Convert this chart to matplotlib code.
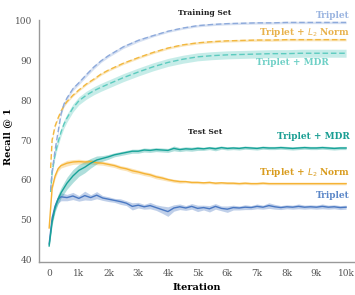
import matplotlib.pyplot as plt
import numpy as np

# iteraciones
it_train = [50, 100, 200, 300, 400, 500, 600, 800, 1000, 1250, 1500, 1750, 2000, 2500, 3000,
            3500, 4000, 4500, 5000, 5500, 6000, 6500, 7000, 7500, 8000, 8500, 9000, 9500, 10000]
it_test = [0, 100, 200, 300, 400] + list(range(600, 10001, 200))

# training set (dashed)
train_triplet = [57.5, 62.0, 67.5, 72.0, 76.5, 79.0, 80.5, 82.8, 84.3, 86.3, 88.2, 89.8, 91.1, 93.3, 94.9,
                 96.1, 97.2, 98.0, 98.6, 98.9, 99.1, 99.2, 99.3, 99.3, 99.4, 99.4, 99.4, 99.4, 99.4]
train_l2 = [63.0, 70.0, 73.5, 75.5, 77.2, 78.6, 79.6, 81.2, 82.5, 84.0, 85.2, 86.5, 87.5, 89.2, 90.6,
            91.9, 93.0, 93.8, 94.3, 94.6, 94.8, 94.9, 95.0, 95.0, 95.1, 95.1, 95.1, 95.1, 95.1]
train_mdr = [57.0, 62.0, 66.5, 69.5, 72.0, 74.0, 75.5, 78.0, 79.8, 81.2, 82.3, 83.2, 84.0, 85.6, 87.0,
             88.3, 89.4, 90.2, 90.8, 91.1, 91.3, 91.4, 91.5, 91.6, 91.6, 91.7, 91.7, 91.7, 91.7]
train_triplet_sd = [0.3, 0.4, 0.5, 0.5, 0.5, 0.5, 0.5, 0.5, 0.5, 0.5, 0.5, 0.4, 0.4, 0.4, 0.4,
                    0.3, 0.3, 0.3, 0.3, 0.3, 0.3, 0.3, 0.3, 0.3, 0.3, 0.3, 0.3, 0.3, 0.3]
train_l2_sd = [0.3, 0.3, 0.3, 0.3, 0.3, 0.3, 0.3, 0.3, 0.3, 0.3, 0.3, 0.3, 0.3, 0.3, 0.3,
               0.3, 0.3, 0.3, 0.3, 0.3, 0.3, 0.3, 0.3, 0.3, 0.3, 0.3, 0.3, 0.3, 0.3]
train_mdr_sd = [0.5, 0.6, 0.8, 0.9, 1.0, 1.0, 1.0, 1.0, 1.0, 1.0, 1.0, 1.0, 1.0, 1.0, 1.0,
                1.0, 1.0, 1.0, 1.0, 1.0, 1.0, 1.0, 1.0, 1.0, 1.0, 1.0, 1.0, 1.0, 1.0]

# test set (solid)
test_triplet = [44.0, 50.5, 53.5, 55.2, 55.8, 55.6, 56.0, 55.4, 56.1, 55.6, 56.2, 55.5, 55.2, 54.9,
                54.6, 54.2, 53.4, 53.7, 53.3, 53.6, 53.1, 52.6, 52.1, 53.0, 53.3, 53.0, 53.4, 52.9,
                53.1, 52.8, 53.4, 52.9, 52.7, 53.1, 53.0, 53.2, 53.1, 53.4, 53.2, 53.6, 53.3, 53.1,
                53.3, 53.2, 53.4, 53.2, 53.3, 53.2, 53.4, 53.2, 53.3, 53.1, 53.2]
test_l2 = [48.0, 58.0, 61.0, 62.8, 63.6, 64.2, 64.5, 64.6, 64.5, 64.6, 64.3, 64.2, 63.9, 63.6,
           63.1, 62.8, 62.3, 62.0, 61.6, 61.3, 60.8, 60.5, 60.1, 59.8, 59.6, 59.6, 59.4, 59.4,
           59.3, 59.4, 59.2, 59.3, 59.2, 59.2, 59.1, 59.2, 59.1, 59.1, 59.2, 59.1, 59.1, 59.1,
           59.1, 59.1, 59.1, 59.1, 59.1, 59.1, 59.1, 59.1, 59.1, 59.1, 59.1]
test_mdr = [43.5, 49.5, 53.0, 55.2, 56.8, 59.2, 61.0, 62.4, 63.2, 64.2, 65.0, 65.4, 65.8, 66.3,
            66.6, 66.9, 67.2, 67.2, 67.5, 67.4, 67.6, 67.5, 67.4, 67.9, 67.6, 67.8, 67.7, 67.9,
            67.8, 68.0, 67.8, 68.1, 67.9, 68.0, 67.9, 68.1, 68.0, 67.9, 68.1, 68.0, 68.0, 68.1,
            68.0, 67.9, 68.0, 68.1, 68.0, 68.0, 68.1, 68.0, 67.9, 68.0, 68.0]
test_triplet_sd = [0.3, 0.8, 1.0, 1.0, 1.0, 0.8, 0.9, 0.7, 1.1, 0.7, 0.9, 0.6, 0.6, 0.5,
                   0.7, 0.6, 0.9, 0.7, 0.6, 0.8, 0.7, 0.9, 1.2, 0.8, 0.7, 0.6, 0.7, 0.8,
                   0.6, 0.8, 0.7, 0.6, 0.8, 0.6, 0.5, 0.6, 0.5, 0.6, 0.5, 0.7, 0.6, 0.5,
                   0.5, 0.5, 0.6, 0.5, 0.5, 0.5, 0.6, 0.5, 0.5, 0.5, 0.5]
test_l2_sd = [0.3, 0.5, 0.6, 0.6, 0.6, 0.7, 0.6, 0.6, 0.5, 0.6, 0.5, 0.5, 0.5, 0.5,
              0.5, 0.5, 0.6, 0.5, 0.5, 0.5, 0.5, 0.5, 0.4, 0.4, 0.4, 0.3, 0.3, 0.3,
              0.3, 0.3, 0.3, 0.3, 0.3, 0.3, 0.3, 0.3, 0.3, 0.3, 0.3, 0.3, 0.3, 0.3,
              0.3, 0.3, 0.3, 0.3, 0.3, 0.3, 0.3, 0.3, 0.3, 0.3, 0.3]
test_mdr_sd = [0.3, 0.8, 1.0, 1.2, 1.3, 1.5, 1.6, 1.5, 1.4, 1.2, 1.0, 0.7, 0.6, 0.5,
               0.5, 0.5, 0.5, 0.5, 0.5, 0.5, 0.5, 0.5, 0.5, 0.6, 0.5, 0.5, 0.5, 0.5,
               0.4, 0.4, 0.5, 0.4, 0.4, 0.4, 0.4, 0.4, 0.4, 0.4, 0.4, 0.4, 0.4, 0.4,
               0.4, 0.4, 0.4, 0.4, 0.4, 0.4, 0.4, 0.4, 0.4, 0.4, 0.4]

x_ticks = list(range(0, 10001, 1000))
x_labels = ["0", "1k", "2k", "3k", "4k", "5k", "6k", "7k", "8k", "9k", "10k"]
y_ticks = [40, 50, 60, 70, 80, 90, 100]

c_tri_train = "#8eaadb"
c_l2_train = "#f2b840"
c_mdr_train = "#5ccbbf"
c_tri_test = "#4a78c2"
c_l2_test = "#f5b335"
c_mdr_test = "#17a398"

plt.rcParams['font.family'] = ['DejaVu Serif']

fig = plt.figure(figsize=(3.55, 2.95), dpi=100)
ax = fig.add_axes([0.11, 0.112, 0.89, 0.82])

def curva(x, y, sd, color, ls, lw=1.0):
    x = np.array(x); y = np.array(y); sd = np.array(sd)
    ax.fill_between(x, y - sd, y + sd, color=color, alpha=0.35, lw=0)
    ax.plot(x, y, color=color, ls=ls, lw=lw)

curva(it_train, train_mdr, train_mdr_sd, c_mdr_train, (0, (4, 2)))
curva(it_train, train_l2, train_l2_sd, c_l2_train, (0, (4, 2)))
curva(it_train, train_triplet, train_triplet_sd, c_tri_train, (0, (4, 2)))
curva(it_test, test_triplet, test_triplet_sd, c_tri_test, "-")
curva(it_test, test_l2, test_l2_sd, c_l2_test, "-")
curva(it_test, test_mdr, test_mdr_sd, c_mdr_test, "-")

ax.set_xlim(-340, 10300)
ax.set_ylim(39.5, 100)
ax.set_xticks(x_ticks)
ax.set_xticklabels(x_labels)
ax.set_yticks(y_ticks)
ax.tick_params(length=0, labelsize=6.5, labelcolor="#555555", pad=5)
for s in ["top", "right"]:
    ax.spines[s].set_visible(False)
for s in ["left", "bottom"]:
    ax.spines[s].set_color("#999999")
    ax.spines[s].set_linewidth(1.0)

ax.set_xlabel("Iteration", fontweight="bold", fontsize=7, labelpad=4)
ax.set_ylabel("Recall @ 1", fontweight="bold", fontsize=7)
ax.yaxis.set_label_coords(-0.085, 0.52)

kw = dict(fontweight="bold", fontsize=6.5, clip_on=False)
ax.text(5250, 101.8, "Training Set", ha="center", va="center", color="#222222", fontsize=5.5, fontweight="bold")
ax.text(5250, 72.0, "Test Set", ha="center", va="center", color="#222222", fontsize=5.5, fontweight="bold")
ax.text(10130, 101.2, "Triplet", ha="right", va="center", color="#9ab4e0", **kw)
ax.text(10130, 96.8, "Triplet + $L_2$ Norm", ha="right", va="center", color="#e8b24c", **kw)
ax.text(9400, 89.5, "Triplet + MDR", ha="right", va="center", color="#6fd0c6", **kw)
ax.text(10130, 70.8, "Triplet + MDR", ha="right", va="center", color="#1a9e93", **kw)
ax.text(10130, 61.8, "Triplet + $L_2$ Norm", ha="right", va="center", color="#d99c1e", **kw)
ax.text(10130, 56.0, "Triplet", ha="right", va="center", color="#5b87c8", **kw)

fig.savefig("out.png", dpi=100)
